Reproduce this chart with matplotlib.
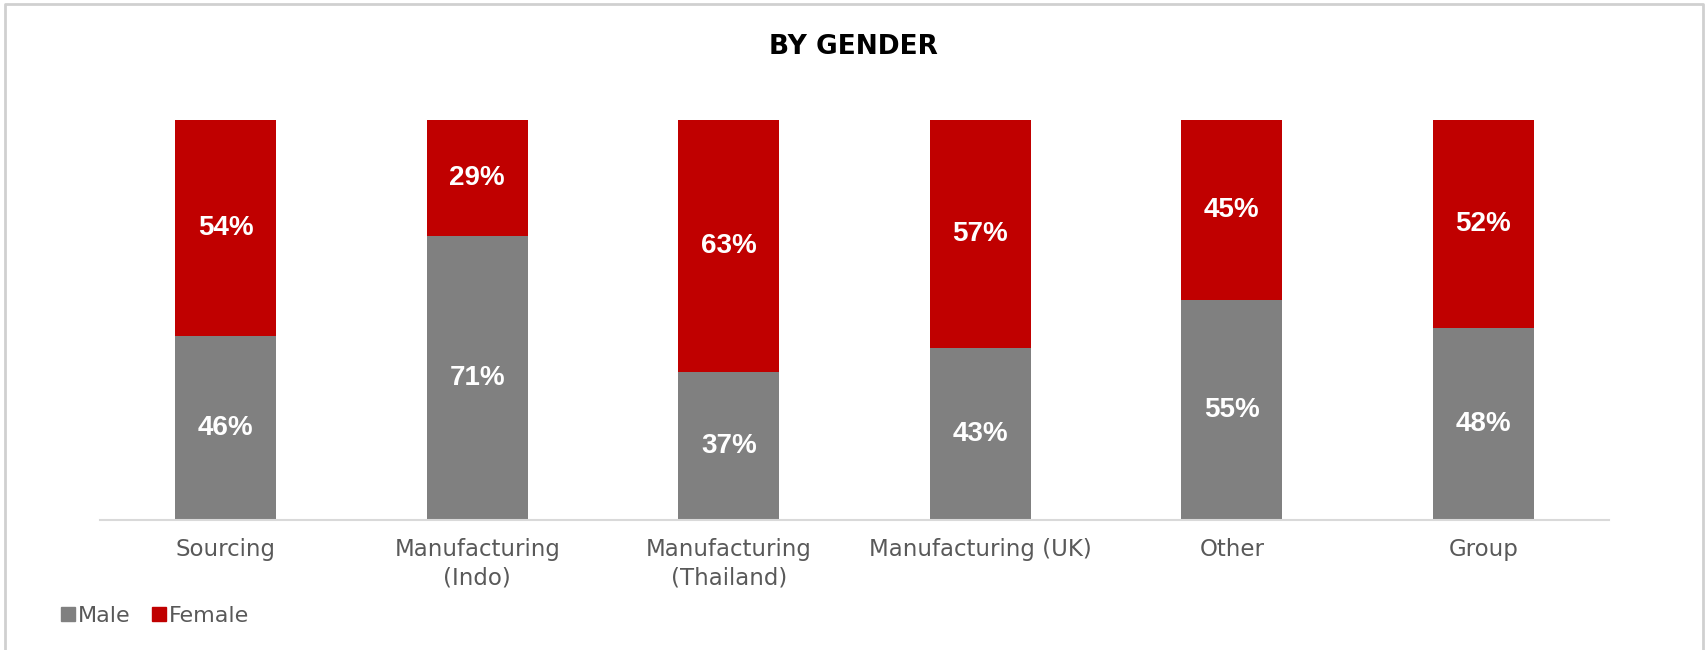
import matplotlib.pyplot as plt
from matplotlib.lines import Line2D
import numpy as np

# data
categories = ['Sourcing', 'Manufacturing\n(Indo)', 'Manufacturing\n(Thailand)',
              'Manufacturing (UK)', 'Other', 'Group']
male = [46, 71, 37, 43, 55, 48]
female = [54, 29, 63, 57, 45, 52]

grey = '#808080'
red = '#C00000'

fig = plt.figure(figsize=(17.07, 6.5), dpi=100)
ax = fig.add_axes([0.0586, 0.2, 0.884, 0.615])

x = np.arange(len(categories))
ax.bar(x, male, width=0.4, color=grey, label='Male')
ax.bar(x, female, width=0.4, bottom=male, color=red, label='Female')

for i in range(len(categories)):
    ax.text(x[i], male[i] / 2, f'{male[i]}%', ha='center', va='center',
            color='white', fontsize=20, fontweight='bold', family='Liberation Sans')
    ax.text(x[i], male[i] + female[i] / 2, f'{female[i]}%', ha='center', va='center',
            color='white', fontsize=20, fontweight='bold', family='Liberation Sans')

ax.set_xlim(-0.5, len(categories) - 0.5)
ax.set_ylim(0, 100)
ax.set_yticks([])
ax.set_xticks(x)
ax.set_xticklabels(categories, fontsize=16.5, color='#595959', family='DejaVu Sans',
                   linespacing=1.3)
ax.tick_params(axis='x', length=0, pad=13)
for s in ['top', 'right', 'left']:
    ax.spines[s].set_visible(False)
ax.spines['bottom'].set_color('#d9d9d9')
ax.spines['bottom'].set_linewidth(1.5)

fig.text(0.5, 0.927, 'BY GENDER', ha='center', va='center', fontsize=19,
         fontweight='bold', family='DejaVu Sans', color='black')

handles = [Line2D([], [], marker='s', linestyle='', color=grey, markersize=10),
           Line2D([], [], marker='s', linestyle='', color=red, markersize=10)]
leg = fig.legend(handles, ['Male', 'Female'], loc='center left',
                 bbox_to_anchor=(0.024, 0.052), ncol=2, frameon=False,
                 handlelength=0.6, handletextpad=0.15, columnspacing=1.0,
                 prop={'family': 'DejaVu Sans', 'size': 16})
for t in leg.get_texts():
    t.set_color('#595959')

# outer border (left, top, right)
fig.add_artist(Line2D([0.003, 0.003, 0.9975, 0.9975], [0.0, 0.994, 0.994, 0.0],
                      transform=fig.transFigure, color='#d0d0d0', linewidth=2))

fig.savefig('out.png', dpi=100)
